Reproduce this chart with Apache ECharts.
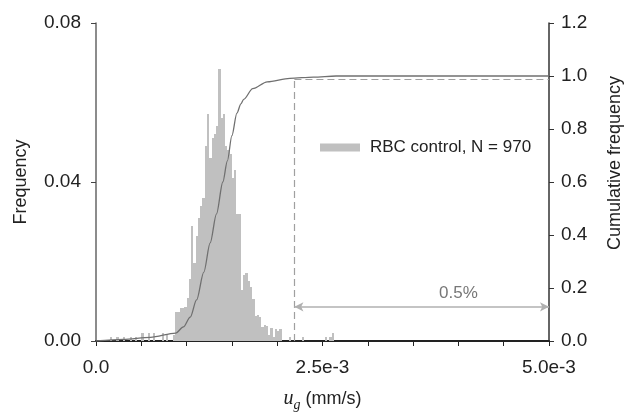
<!DOCTYPE html>
<html><head><meta charset="utf-8">
<script src="https://cdn.jsdelivr.net/npm/echarts@6/dist/echarts.min.js"></script>
<style>html,body{margin:0;padding:0;background:#fff}#c{width:627px;height:413px}</style>
</head><body><div id="c"></div>
<script>
// x values are in units of 1e-3 mm/s
const binWidth = 0.025;
const binIndex = [6,9,12,15,17,20,23,25,29,31,34,35,36,37,38,39,40,41,42,43,44,45,46,47,48,49,50,51,52,53,54,55,56,57,58,59,60,61,62,63,64,65,66,67,68,69,70,71,72,73,74,75,76,77,78,79,80,81,85,91,101,103,104];
const binFreq = [0.001,0.001,0.001,0.001,0.001,0.002,0.002,0.002,0.002,0.0015,0.0015,0.0072,0.0072,0.0082,0.0082,0.0085,0.0108,0.0157,0.029,0.0197,0.0265,0.031,0.034,0.036,0.049,0.057,0.046,0.051,0.052,0.054,0.0685,0.056,0.057,0.049,0.048,0.047,0.041,0.043,0.032,0.032,0.0128,0.0165,0.017,0.015,0.0135,0.0105,0.0062,0.0065,0.006,0.0035,0.004,0.0038,0.0015,0.0033,0.001,0.003,0.0025,0.003,0.001,0.001,0.001,0.001,0.002];
const cumX = [0,0.3,0.6,0.88,0.965,1.04,1.11,1.19,1.26,1.33,1.4,1.45,1.5,1.555,1.6,1.63,1.73,1.89,2.14,2.4,2.65,5.0];
const cumY = [0.0,0.006,0.014,0.03,0.053,0.09,0.155,0.26,0.37,0.48,0.6,0.68,0.775,0.86,0.895,0.912,0.952,0.978,0.991,0.996,1.0,1.0];
const xTickLabels = [[0,'0.0'],[2.5,'2.5e-3'],[5,'5.0e-3']];
const cutoffX = 2.19, cutoffY = 0.987, arrowY = 0.129;
const pctText = '0.5%', pctX = 4.0, pctY = 0.18;
const legendName = 'RBC control, N = 970';

const FONT = "'Liberation Sans', Arial, sans-serif";
const BAR = '#c0c0c0';
const chart = echarts.init(document.getElementById('c'), null, {renderer:'canvas'});
const barData = binIndex.map((k,i)=>[k*binWidth, (k+1)*binWidth, binFreq[i]]);
const lineData = cumX.map((x,i)=>[x, cumY[i]]);
const dash = {type:[7,4], color:'#a0a0a0', width:1.2};
function renderBin(params, api){
  const p0 = api.coord([api.value(0), 0]);
  const p1 = api.coord([api.value(1), api.value(2)]);
  const x0 = Math.round(p0[0]), x1 = Math.round(p1[0]);
  const yb = Math.round(p0[1]), yt = Math.round(p1[1]);
  return {type:'rect', shape:{x:x0, y:yt, width:x1-x0, height:yb-yt}, style:{fill:BAR}};
}
chart.setOption({
  animation:false,
  grid:{left:96, right:78, top:23, bottom:72, outerBoundsMode:'none', containLabel:false},
  legend:{data:[legendName], left:315, top:134, itemWidth:40, itemHeight:8, icon:'rect',
    textStyle:{fontFamily:FONT, fontSize:17, color:'#222', padding:[0,0,0,5]}},
  xAxis:{type:'value', min:0, max:5, interval:0.5,
    axisLine:{lineStyle:{color:'#222', width:2}},
    axisTick:{length:5, lineStyle:{color:'#222'}},
    splitLine:{show:false},
    axisLabel:{fontFamily:FONT, fontSize:19, color:'#222', margin:17,
      formatter:v=>{const t=xTickLabels.find(p=>Math.abs(p[0]-v)<1e-9);return t?t[1]:'';}},
    name:'{u|u}{g|g}{t| (mm/s)}', nameLocation:'middle', nameGap:45,
    nameTextStyle:{rich:{
      u:{fontFamily:"'Liberation Serif', serif", fontStyle:'italic', fontSize:20, color:'#222', lineHeight:26, verticalAlign:'middle'},
      g:{fontFamily:"'Liberation Serif', serif", fontStyle:'italic', fontSize:14, color:'#222', lineHeight:26, verticalAlign:'bottom'},
      t:{fontFamily:FONT, fontSize:18, color:'#222', lineHeight:26, verticalAlign:'middle'}}}
  },
  yAxis:[
    {type:'value', min:0, max:0.08, interval:0.04, position:'left',
      axisLine:{show:true, lineStyle:{color:'#666', width:1.5}},
      axisTick:{show:true, length:5, lineStyle:{color:'#444'}},
      splitLine:{show:false},
      axisLabel:{fontFamily:FONT, fontSize:19, color:'#222', margin:15, formatter:v=>v.toFixed(2)}},
    {type:'value', min:0, max:1.2, interval:0.2, position:'right',
      axisLine:{show:true, lineStyle:{color:'#333', width:1.5}},
      axisTick:{show:true, length:5, lineStyle:{color:'#333'}},
      splitLine:{show:false},
      axisLabel:{fontFamily:FONT, fontSize:19, color:'#222', margin:12, formatter:v=>v.toFixed(1)}}
  ],
  graphic:[
    {type:'text', x:21, y:182, rotation:Math.PI/2, style:{text:'Frequency', font:"18px 'Liberation Sans', Arial", fill:'#222', textAlign:'center', textVerticalAlign:'middle'}},
    {type:'text', x:615, y:163, rotation:Math.PI/2, style:{text:'Cumulative frequency', font:"18px 'Liberation Sans', Arial", fill:'#222', textAlign:'center', textVerticalAlign:'middle'}}
  ],
  series:[
    {name:legendName, type:'custom', data:barData, renderItem:renderBin,
      encode:{x:[0,1], y:2}, itemStyle:{color:BAR}, z:1},
    {name:'cumulative', type:'line', yAxisIndex:1, data:lineData, symbol:'none', smooth:0.3, smoothMonotone:'x',
      lineStyle:{color:'#707070', width:1.3}, z:3,
      markLine:{silent:true, symbol:['none','none'], label:{show:false},
        data:[
          [{coord:[cutoffX,0], lineStyle:dash},{coord:[cutoffX,cutoffY]}],
          [{coord:[cutoffX,cutoffY], lineStyle:dash},{coord:[5,cutoffY]}],
          [{coord:[cutoffX,arrowY], symbol:'arrow', symbolSize:[7,9], lineStyle:{type:'solid', color:'#b0b0b0', width:1.5}},
           {coord:[5,arrowY], symbol:'arrow', symbolSize:[7,9]}]
        ]},
      markPoint:{silent:true, symbol:'rect', symbolSize:1, itemStyle:{color:'rgba(0,0,0,0)'},
        label:{show:true, position:'inside', formatter:pctText, fontFamily:FONT, fontSize:17, color:'#777'},
        data:[{coord:[pctX,pctY]}]}
    }
  ]
});
</script></body></html>
